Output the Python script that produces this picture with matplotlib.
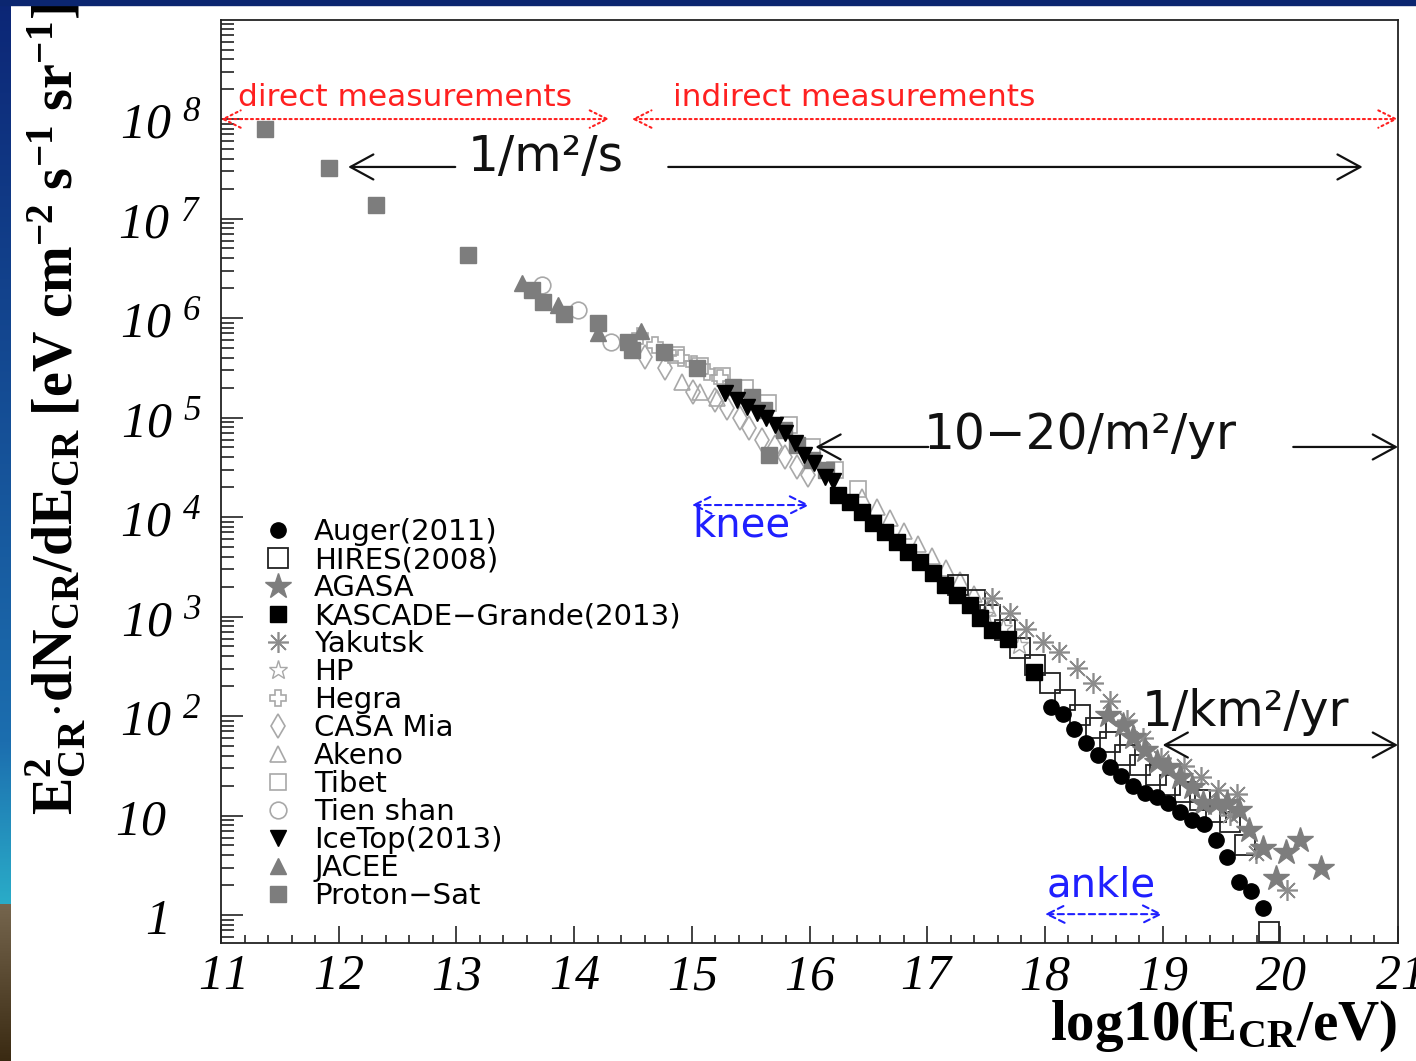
import numpy as np
import matplotlib.pyplot as plt
from matplotlib.patches import Rectangle
from matplotlib.transforms import ScaledTranslation
from matplotlib.ticker import LogLocator, MultipleLocator, NullFormatter

plt.rcParams['mathtext.fontset'] = 'custom'
plt.rcParams['mathtext.rm'] = 'Liberation Serif:italic'
plt.rcParams['mathtext.it'] = 'Liberation Serif:italic'
plt.rcParams['mathtext.bf'] = 'Liberation Serif:bold'

# ---- cosmic ray all-particle spectrum, x = log10(E/eV), y = E^2 dN/dE ----
auger_x = [18.05, 18.15, 18.25, 18.35, 18.45, 18.55, 18.65, 18.75, 18.85, 18.95,
           19.05, 19.15, 19.25, 19.35, 19.45, 19.55, 19.65, 19.75, 19.85]
auger_y = [123, 105, 74, 53.6, 40.6, 30.7, 24.9, 19.8, 16.8, 15.3,
           13.4, 10.8, 9.0, 8.2, 5.7, 3.8, 2.15, 1.74, 1.17]

hires_x = [17.26, 17.41, 17.53, 17.66, 17.79, 17.92, 18.04, 18.17, 18.30, 18.43,
           18.55, 18.68, 18.81, 18.94, 19.06, 19.19, 19.32, 19.45, 19.57, 19.70, 19.90]
hires_y = [2075, 1466, 1035, 731, 482, 326, 215, 145, 102, 75.7,
           54.8, 40.6, 32.2, 25.5, 20.3, 17.2, 14.3, 10.8, 8.6, 5.06, 0.67]

agasa_x = [18.54, 18.66, 18.75, 18.85, 18.95, 19.05, 19.15, 19.25, 19.34, 19.45,
           19.55, 19.65, 19.73, 19.85, 19.96, 20.05, 20.17, 20.35]
agasa_y = [103, 81, 61.5, 45.5, 34.5, 30.7, 24.4, 19.3, 13.4, 13.4,
           13.4, 11.4, 7.1, 4.7, 2.36, 4.3, 5.7, 2.97]

kascade_x = [16.24, 16.34, 16.45, 16.54, 16.64, 16.74, 16.84, 16.94, 17.05, 17.15,
             17.25, 17.36, 17.45, 17.55, 17.69, 17.91]
kascade_y = [1.66e4, 1.42e4, 1.12e4, 8.7e3, 7.1e3, 5.6e3, 4.45e3, 3.53e3, 2.74e3, 2.07e3,
             1.64e3, 1.31e3, 966, 731, 594, 277]

yakutsk_x = [17.55, 17.70, 17.84, 17.98, 18.12, 18.27, 18.41, 18.55, 18.70, 18.83,
             18.99, 19.18, 19.33, 19.47, 19.63, 19.57, 19.79, 20.06]
yakutsk_y = [1535, 1084, 748, 555, 440, 303, 215, 142, 91, 60,
             37.8, 31.4, 24.4, 18.0, 16.4, 10.1, 4.2, 1.78]

hp_x = [17.49, 17.64, 17.78]
hp_y = [1040, 766, 517]

hegra_x = [14.56, 14.69, 14.80, 14.91, 15.02, 15.13, 15.24]
hegra_y = [6.6e5, 5.4e5, 4.45e5, 3.96e5, 3.45e5, 2.87e5, 2.49e5]

casa_x = [14.60, 14.77, 15.01, 15.20, 15.30, 15.41, 15.49, 15.60, 15.71, 15.79, 15.89, 15.99]
casa_y = [4.06e5, 3.14e5, 1.80e5, 1.50e5, 1.25e5, 9.9e4, 7.8e4, 5.9e4, 5.1e4, 4.0e4, 3.18e4, 2.64e4]

akeno_x = [14.92, 15.07, 15.21, 16.45, 16.57, 16.68, 16.80, 16.92, 17.04, 17.16,
           17.28, 17.40, 17.52]
akeno_y = [2.28e5, 1.80e5, 1.57e5, 1.59e4, 1.26e4, 9.8e3, 7.2e3, 5.4e3, 4.06e3, 3.07e3,
           2.33e3, 1.68e3, 1.22e3]

tibet_x = [14.87, 15.07, 15.26, 15.45, 15.65, 15.83, 16.02, 16.22, 16.41]
tibet_y = [4.25e5, 3.3e5, 2.61e5, 1.98e5, 1.40e5, 8.5e4, 5.0e4, 3.0e4, 1.9e4]

tienshan_x = [13.73, 14.03, 14.31]
tienshan_y = [2.15e6, 1.20e6, 5.7e5]

icetop_x = [15.28, 15.38, 15.47, 15.55, 15.63, 15.71, 15.79, 15.88, 15.95, 16.04, 16.13, 16.20]
icetop_y = [1.76e5, 1.50e5, 1.28e5, 1.11e5, 9.9e4, 8.4e4, 7.0e4, 5.5e4, 4.2e4, 3.5e4, 2.52e4, 2.30e4]

jacee_x = [13.56, 13.86, 14.20, 14.57]
jacee_y = [2.25e6, 1.35e6, 7.1e5, 7.4e5]

protonsat_x = [11.37, 11.92, 12.32, 13.10, 13.64, 13.74, 13.91, 14.20, 14.46, 14.49,
               14.76, 15.04, 15.66, 15.35, 15.51, 15.61, 15.78, 15.89, 16.02, 16.14]
protonsat_y = [7.9e7, 3.2e7, 1.37e7, 4.3e6, 1.91e6, 1.45e6, 1.10e6, 8.9e5, 5.7e5, 4.8e5,
               4.55e5, 3.14e5, 4.2e4, 2.03e5, 1.61e5, 1.19e5, 7.5e4, 5.3e4, 3.74e4, 2.97e4]

ytick_vals = [1, 10, 1e2, 1e3, 1e4, 1e5, 1e6, 1e7, 1e8]
ytick_text = [r'$1$', r'$10$'] + [r'$10\ {}^{%d}$' % k for k in range(2, 9)]
xtick_vals = list(range(11, 22))

fig = plt.figure(figsize=(14.16, 10.61), dpi=100)

# slide background strips
strip = fig.add_axes([0, 0, 11 / 1416, 1])
rows = np.linspace(0, 1, 1061)
grad = np.zeros((1061, 1, 3))
blue_top = np.array([12, 38, 118]) / 255
blue_mid = np.array([28, 110, 175]) / 255
teal = np.array([42, 172, 200]) / 255
brown_top = np.array([118, 102, 78]) / 255
brown_bot = np.array([58, 42, 18]) / 255
for i, r in enumerate(rows):
    if r < 0.7:
        grad[i, 0] = blue_top + (blue_mid - blue_top) * r / 0.7
    elif r < 0.852:
        grad[i, 0] = blue_mid + (teal - blue_mid) * (r - 0.7) / 0.152
    else:
        grad[i, 0] = brown_top + (brown_bot - brown_top) * (r - 0.852) / 0.148
strip.imshow(grad, aspect='auto', extent=(0, 1, 0, 1))
strip.axis('off')
fig.add_artist(Rectangle((0, 1 - 5 / 1061), 1, 5 / 1061, transform=fig.transFigure,
                         color='#0b2670', zorder=5))

ax = fig.add_axes([221 / 1416, 1 - 943 / 1061, 1177 / 1416, 923 / 1061])
ax.set_yscale('log')
ax.set_xlim(11, 21)
ax.set_ylim(0.523, 9.9e8)

gray = '#7d7d7d'
light = '#a8a8a8'
ms_kw = dict(ls='none')

ax.plot(tibet_x, tibet_y, marker='s', ms=12, mfc='none', mec=light, mew=1.2,
        label='Tibet', zorder=2, **ms_kw)
ax.plot(hegra_x, hegra_y, marker='P', ms=12, mfc='none', mec=light, mew=1.2,
        label='Hegra', zorder=2, **ms_kw)
ax.plot(casa_x, casa_y, marker='d', ms=12, mfc='none', mec=light, mew=1.2,
        label='CASA Mia', zorder=2, **ms_kw)
ax.plot(akeno_x, akeno_y, marker='^', ms=12, mfc='none', mec=light, mew=1.2,
        label='Akeno', zorder=2, **ms_kw)
ax.plot(tienshan_x, tienshan_y, marker='o', ms=12, mfc='none', mec=light, mew=1.2,
        label='Tien shan', zorder=2, **ms_kw)
ax.plot(hp_x, hp_y, marker='*', ms=14, mfc='none', mec=light, mew=1.0,
        label='HP', zorder=2, **ms_kw)
ax.plot(protonsat_x, protonsat_y, marker='s', ms=11, mfc=gray, mec=gray,
        label='Proton\u2212Sat', zorder=3, **ms_kw)
ax.plot(jacee_x, jacee_y, marker='^', ms=11, mfc=gray, mec=gray,
        label='JACEE', zorder=3, **ms_kw)
ax.plot(hires_x, hires_y, marker='s', ms=15, mfc='none', mec='#222222', mew=1.3,
        label='HIRES(2008)', zorder=3, **ms_kw)
ax.plot(yakutsk_x, yakutsk_y, marker=(8, 2, 0), ms=15, mec='#8c8c8c', mew=1.2,
        label='Yakutsk', zorder=3, **ms_kw)
ax.plot(agasa_x, agasa_y, marker='*', ms=19, mfc=gray, mec=gray,
        label='AGASA', zorder=4, **ms_kw)
ax.plot(icetop_x, icetop_y, marker='v', ms=12, mfc='black', mec='black',
        label='IceTop(2013)', zorder=4, **ms_kw)
ax.plot(kascade_x, kascade_y, marker='s', ms=12, mfc='black', mec='black',
        label='KASCADE\u2212Grande(2013)', zorder=4, **ms_kw)
ax.plot(auger_x, auger_y, marker='o', ms=11, mfc='black', mec='black',
        label='Auger(2011)', zorder=5, **ms_kw)

order = ['Auger(2011)', 'HIRES(2008)', 'AGASA', 'KASCADE\u2212Grande(2013)', 'Yakutsk',
         'HP', 'Hegra', 'CASA Mia', 'Akeno', 'Tibet', 'Tien shan', 'IceTop(2013)',
         'JACEE', 'Proton\u2212Sat']
handles, labels = ax.get_legend_handles_labels()
lookup = dict(zip(labels, handles))
ax.legend([lookup[k] for k in order], order, loc='upper left',
          bbox_to_anchor=(0.0357, 0.4604), frameon=False, borderpad=0,
          borderaxespad=0, handlelength=1.0, handletextpad=0.75, labelspacing=0.0,
          prop={'family': 'DejaVu Sans', 'size': 21})

# axis cosmetics
ax.set_yticks(ytick_vals)
ax.set_yticklabels(ytick_text)
ax.yaxis.set_minor_locator(LogLocator(base=10, subs=np.arange(2, 10), numticks=30))
ax.yaxis.set_minor_formatter(NullFormatter())
ax.set_xticks(xtick_vals)
ax.set_xticklabels([r'$%d$' % v for v in xtick_vals])
ax.xaxis.set_minor_locator(MultipleLocator(0.2))
ax.tick_params(axis='both', which='both', direction='in', top=False, right=False,
               color='#222222', width=1.2)
ax.tick_params(axis='y', which='major', length=16, pad=14, labelsize=36)
ax.tick_params(axis='y', which='minor', length=9)
ax.tick_params(axis='x', which='major', length=12, pad=6, labelsize=36)
ax.tick_params(axis='x', which='minor', length=6)
for sp in ax.spines.values():
    sp.set_color('#222222')
    sp.set_linewidth(1.3)

# "1" and "10" line up with the mantissa of the powers above them
shift = ScaledTranslation(-0.35, 0, fig.dpi_scale_trans)
for lab in ax.get_yticklabels()[:2]:
    lab.set_transform(lab.get_transform() + shift)

fig.text(1397 / 1416, 1 - 1040 / 1061, r'$\mathbf{log10(E_{CR}/eV)}$',
         ha='right', va='baseline', fontsize=41)
fig.text(55 / 1416, 1 - 815 / 1061,
         r'$\mathbf{E_{CR}^{2}\!\cdot\! dN_{CR}/dE_{CR}\ [eV\ cm^{-2}\ s^{-1}\ sr^{-1}]}$',
         rotation=90, ha='center', va='bottom', fontsize=40.3)

# flux guides
black_arrow = dict(arrowstyle='->,head_length=0.55,head_width=0.3', color='#111111',
                   lw=1.6, shrinkA=0, shrinkB=0, mutation_scale=30)
black_both = dict(arrowstyle='<->,head_length=0.55,head_width=0.3', color='#111111',
                  lw=1.6, shrinkA=0, shrinkB=0, mutation_scale=30)
tf = dict(family='DejaVu Sans', ha='center', va='center')

ax.annotate('', xy=(12.08, 3.3e7), xytext=(12.99, 3.3e7), arrowprops=black_arrow)
ax.annotate('', xy=(20.70, 3.3e7), xytext=(14.80, 3.3e7), arrowprops=black_arrow)
ax.text(13.76, 4.15e7, '1/m\u00b2/s', fontsize=35, color='#111111', **tf)

ax.annotate('', xy=(16.05, 5.06e4), xytext=(17.01, 5.06e4), arrowprops=black_arrow)
ax.annotate('', xy=(21.0, 5.06e4), xytext=(20.11, 5.06e4), arrowprops=black_arrow)
ax.text(18.30, 6.67e4, '10\u221220/m\u00b2/yr', fontsize=35, color='#111111', **tf)

ax.annotate('', xy=(21.0, 51.1), xytext=(19.0, 51.1), arrowprops=black_both)
ax.text(19.70, 110, '1/km\u00b2/yr', fontsize=35, color='#111111', **tf)

red_both = dict(arrowstyle='<->,head_length=0.5,head_width=0.25', color='#ff2020',
                lw=1.5, ls=':', shrinkA=0, shrinkB=0, mutation_scale=25)
ax.annotate('', xy=(14.30, 1e8), xytext=(11.0, 1e8), arrowprops=red_both)
ax.annotate('', xy=(21.0, 1e8), xytext=(14.49, 1e8), arrowprops=red_both)
ax.text(12.56, 1.63e8, 'direct measurements', fontsize=22.5, color='#ff2020', **tf)
ax.text(16.38, 1.63e8, 'indirect measurements', fontsize=22.5, color='#ff2020', **tf)

blue_both = dict(arrowstyle='<->,head_length=0.5,head_width=0.25', color='#2020ff',
                 lw=1.5, ls=(0, (3, 2)), shrinkA=0, shrinkB=0, mutation_scale=25)
ax.annotate('', xy=(16.0, 1.32e4), xytext=(15.0, 1.32e4), arrowprops=blue_both)
ax.text(15.42, 8.3e3, 'knee', fontsize=29, color='#2020ff', **tf)
ax.annotate('', xy=(19.0, 1.02), xytext=(18.0, 1.02), arrowprops=blue_both)
ax.text(18.48, 2.0, 'ankle', fontsize=29, color='#2020ff', **tf)

plt.savefig('out.png', dpi=100)
